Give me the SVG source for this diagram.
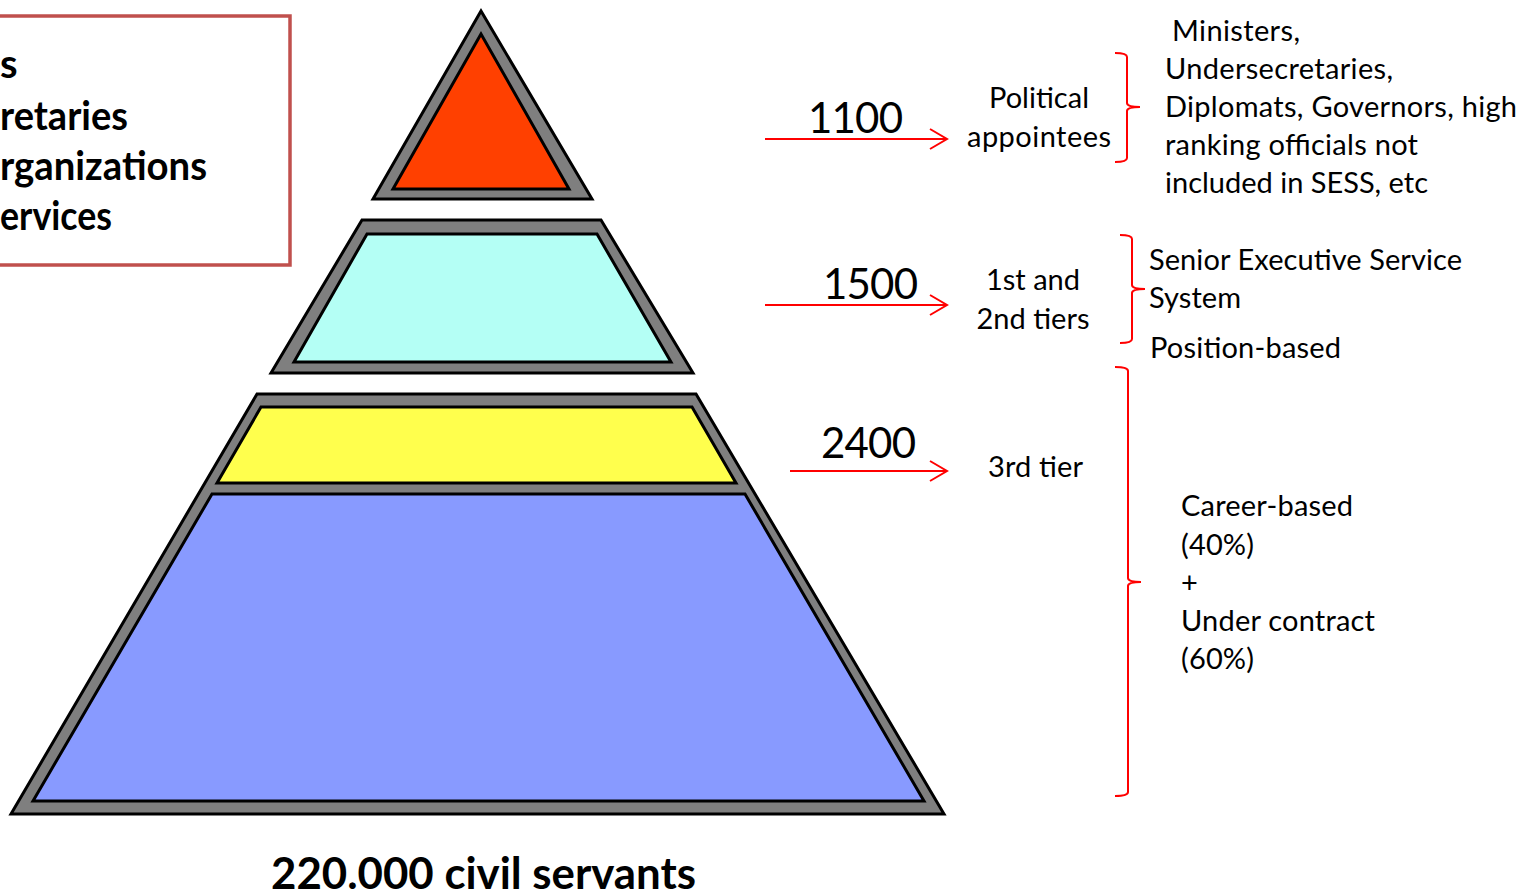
<svg xmlns="http://www.w3.org/2000/svg" width="1524" height="895" viewBox="0 0 1524 895">
<style>
.outer{fill:#7f7f7f;stroke:#000;stroke-width:3;stroke-linejoin:miter}
.inner{stroke:#000;stroke-width:3;stroke-linejoin:miter}
.t{font-family:Lato,"Liberation Sans",sans-serif;font-size:29px;fill:#000}
.num{font-family:Lato,"Liberation Sans",sans-serif;font-size:42px;fill:#000}
.b{font-family:Lato,"Liberation Sans",sans-serif;font-weight:bold;fill:#000}
.red{fill:none;stroke:#ff0000;stroke-width:2}
</style>
<rect width="1524" height="895" fill="#fff"/>
<g id="legend-box">
<rect x="-5" y="16" width="295" height="249" fill="#fff" stroke="#c0504d" stroke-width="3.5"/>
<text class="b" font-size="40" x="0" y="78">s</text>
<text class="b" font-size="40" x="0" y="130" textLength="128" lengthAdjust="spacingAndGlyphs">retaries</text>
<text class="b" font-size="40" x="0" y="180" textLength="207" lengthAdjust="spacingAndGlyphs">rganizations</text>
<text class="b" font-size="40" x="0" y="230" textLength="112" lengthAdjust="spacingAndGlyphs">ervices</text>
</g>
<g id="tier-top">
<polygon class="outer" points="481,11 373,199 592,199"/>
<polygon class="inner" fill="#ff4000" points="481,34 393,189 569,189"/>
</g>
<g id="tier-second">
<polygon class="outer" points="362,220 601,220 693,373 271,373"/>
<polygon class="inner" fill="#b4fff5" points="367,234 597,234 671,362 294,362"/>
</g>
<g id="tier-base">
<polygon class="outer" points="257,394 696,394 944,814 11,814"/>
<polygon class="inner" fill="#ffff4d" points="261,407 692,407 736,483 217,483"/>
<polygon class="inner" fill="#889aff" points="212,494 745,494 924,801 33,801"/>
</g>
<g id="connectors">
<path class="red" d="M765,139 H946 M930,129 L947,139 L930,149"/>
<path class="red" d="M765,305 H946 M930,295 L947,305 L930,315"/>
<path class="red" d="M790,471 H946 M930,461 L947,471 L930,481"/>
<path class="red" d="M1115,53 Q1127,53 1127,57 V103 Q1127,107 1140,107 Q1127,107 1127,111 V158 Q1127,162 1115,162"/>
<path class="red" d="M1120,235 Q1132,235 1132,239 V285 Q1132,289 1145,289 Q1132,289 1132,293 V339 Q1132,343 1120,343"/>
<path class="red" d="M1115,367 Q1128,367 1128,371 V578 Q1128,582 1141,582 Q1128,582 1128,586 V792 Q1128,796 1115,796"/>
</g>
<g id="label-1100">
<text class="num" x="808" y="133" textLength="95">1100</text>
<text class="t" x="1039" y="108" text-anchor="middle" textLength="100">Political</text>
<text class="t" x="1039" y="147" text-anchor="middle" textLength="144">appointees</text>
</g>
<g id="label-1500">
<text class="num" x="823" y="299" textLength="95">1500</text>
<text class="t" x="1033" y="290" text-anchor="middle" textLength="94">1st and</text>
<text class="t" x="1033" y="329" text-anchor="middle" textLength="113">2nd tiers</text>
</g>
<g id="label-2400">
<text class="num" x="821" y="458" textLength="95">2400</text>
<text class="t" x="988" y="477" textLength="95">3rd tier</text>
</g>
<g id="desc-political">
<text class="t" x="1172" y="41" textLength="128">Ministers,</text>
<text class="t" x="1165" y="79" textLength="228">Undersecretaries,</text>
<text class="t" x="1165" y="117" textLength="352">Diplomats, Governors, high</text>
<text class="t" x="1165" y="155" textLength="253">ranking officials not</text>
<text class="t" x="1165" y="193" textLength="263">included in SESS, etc</text>
</g>
<g id="desc-sess">
<text class="t" x="1149" y="270" textLength="313">Senior Executive Service</text>
<text class="t" x="1149" y="308" textLength="92">System</text>
<text class="t" x="1150" y="358" textLength="191">Position-based</text>
</g>
<g id="desc-career">
<text class="t" x="1181" y="516" textLength="172">Career-based</text>
<text class="t" x="1181" y="555" textLength="73">(40%)</text>
<text class="t" x="1181" y="593">+</text>
<text class="t" x="1181" y="631" textLength="194">Under contract</text>
<text class="t" x="1181" y="669" textLength="73">(60%)</text>
</g>
<g id="total">
<text class="b" font-size="44" x="271" y="889" textLength="425" lengthAdjust="spacingAndGlyphs">220.000 civil servants</text>
</g>
</svg>
